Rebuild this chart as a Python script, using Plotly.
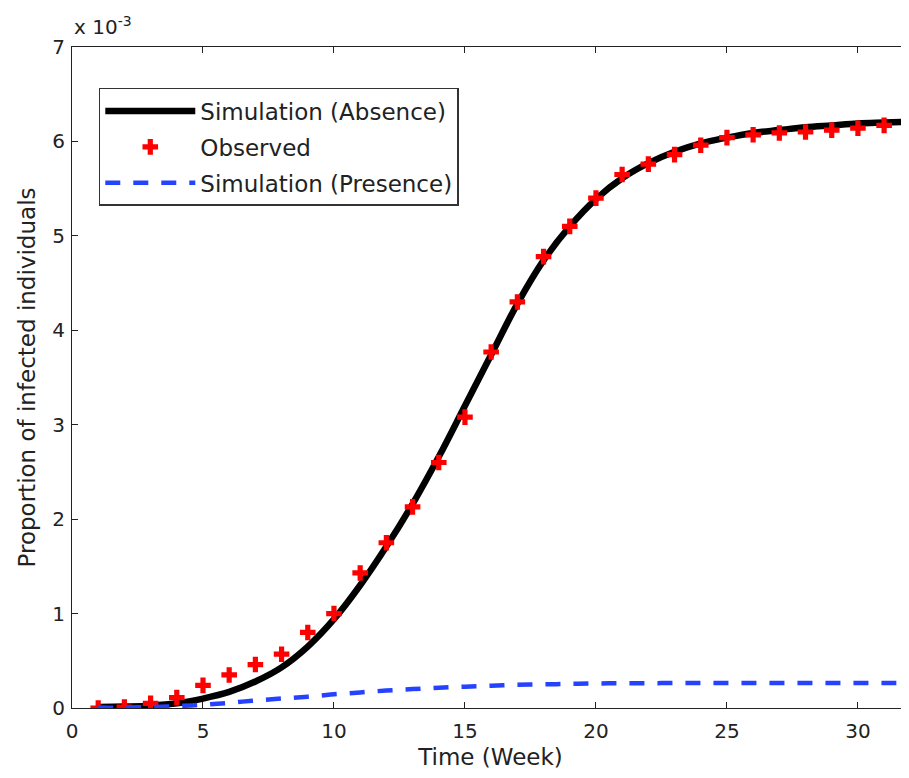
import plotly.graph_objects as go

# Data (proportions, in units of 1e-3)
weeks = list(range(1, 33))
sim_absence = [0.01, 0.015, 0.025, 0.05, 0.10, 0.17, 0.28, 0.43, 0.65, 0.94,
               1.30, 1.71, 2.16, 2.66, 3.20, 3.74, 4.28, 4.74, 5.10, 5.39,
               5.61, 5.77, 5.89, 5.98, 6.04, 6.09, 6.12, 6.15, 6.17, 6.19,
               6.20, 6.21]
observed = [0.00, 0.01, 0.05, 0.11, 0.24, 0.35, 0.46, 0.57, 0.80, 1.00,
            1.43, 1.75, 2.13, 2.60, 3.08, 3.77, 4.30, 4.78, 5.10, 5.40,
            5.65, 5.76, 5.86, 5.96, 6.04, 6.07, 6.09, 6.10, 6.12, 6.14,
            6.17, 6.15]
sim_presence = [0.00, 0.005, 0.01, 0.02, 0.035, 0.055, 0.08, 0.10, 0.12, 0.145,
                0.165, 0.185, 0.20, 0.215, 0.225, 0.235, 0.245, 0.25, 0.255, 0.26,
                0.262, 0.263, 0.264, 0.265, 0.265, 0.265, 0.265, 0.265, 0.265, 0.265,
                0.265, 0.265]
SCALE = 1e-3
y_ticks = [0, 1, 2, 3, 4, 5, 6, 7]
x_ticks = [0, 5, 10, 15, 20, 25, 30]

FONT = "DejaVu Sans, Arial, sans-serif"
TXT = "#222222"

fig = go.Figure()
fig.add_trace(go.Scatter(
    x=weeks, y=[v * SCALE for v in sim_absence], mode="lines",
    name="Simulation (Absence)", line=dict(color="black", width=6.5, shape="spline"),
    legendgroup="a"))
fig.add_trace(go.Scatter(
    x=weeks, y=[v * SCALE for v in observed], mode="markers",
    name="Observed", marker=dict(symbol="cross", size=13, color="#ff0000",
                                 line=dict(width=0)),
    legendgroup="b"))
fig.add_trace(go.Scatter(
    x=weeks, y=[v * SCALE for v in sim_presence], mode="lines",
    name="Simulation (Presence)",
    line=dict(color="#2442ff", width=4.5, dash="15px,13px", shape="spline"),
    legendgroup="c"))

axis_common = dict(
    showgrid=False, zeroline=False, showline=True, linecolor="#222222",
    linewidth=1, ticks="inside", ticklen=6, tickcolor="#222222",
    tickfont=dict(family=FONT, size=20, color=TXT))

fig.update_xaxes(range=[0, 31.95], tickvals=x_ticks, mirror="ticks",
                 ticklabelstandoff=5,
                 title=dict(text="Time (Week)", font=dict(family=FONT, size=23, color=TXT),
                            standoff=6),
                 **axis_common)
fig.update_yaxes(range=[0, 7 * SCALE], tickvals=[t * SCALE for t in y_ticks],
                 ticktext=[str(t) for t in y_ticks], ticklabelstandoff=2,
                 title=dict(text="Proportion of infected individuals",
                            font=dict(family=FONT, size=23, color=TXT), standoff=10),
                 **axis_common)

fig.add_annotation(xref="paper", yref="paper", x=0.0, y=1.0, xanchor="left",
                   yanchor="bottom", yshift=6, showarrow=False,
                   text="x 10<sup>-3</sup>", font=dict(family=FONT, size=20, color=TXT))

fig.update_layout(
    width=901, height=770,
    margin=dict(l=64, r=0, t=39, b=70),
    plot_bgcolor="white", paper_bgcolor="white",
    legend=dict(x=0.032, y=0.938, xanchor="left", yanchor="top",
                bgcolor="white", bordercolor="#333333", borderwidth=1.5,
                font=dict(family=FONT, size=23, color=TXT),
                tracegroupgap=3, itemwidth=90),
    showlegend=True,
)

fig.write_html("out.html")
